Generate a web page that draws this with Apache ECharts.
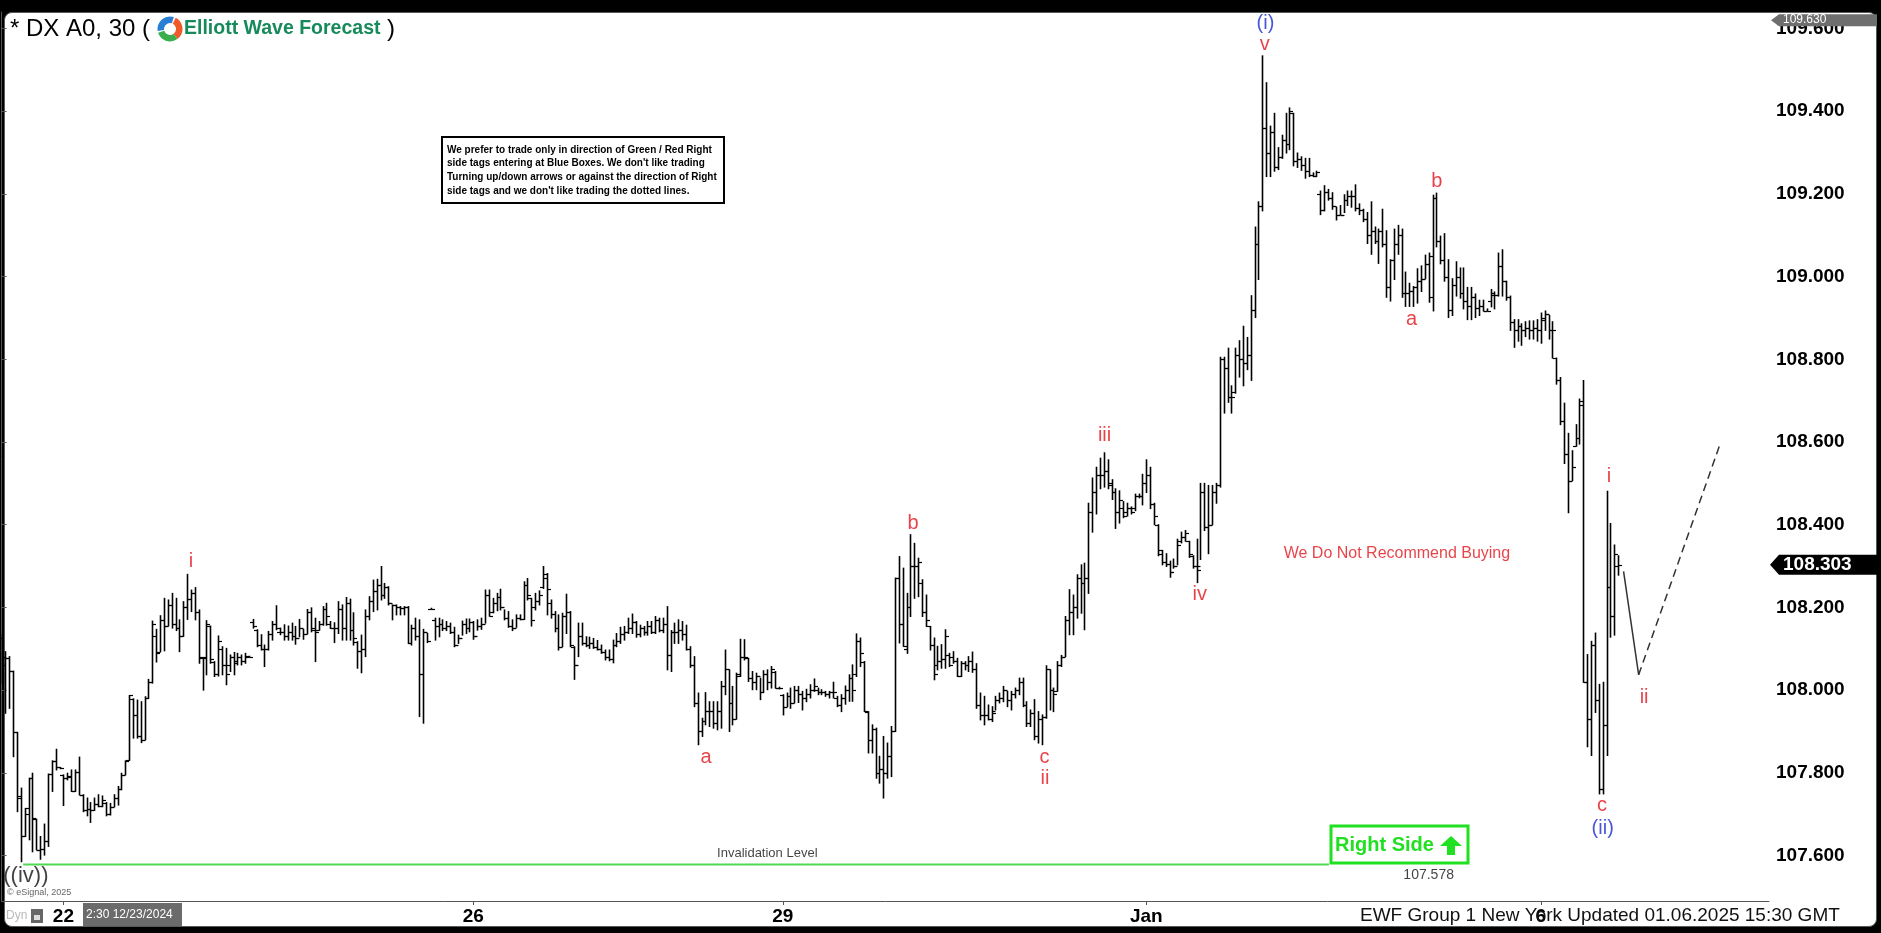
<!DOCTYPE html>
<html><head><meta charset="utf-8">
<script src="https://cdn.jsdelivr.net/npm/echarts@6/dist/echarts.min.js"></script>
<style>
html,body{margin:0;padding:0;background:#000;overflow:hidden}
#panel{position:absolute;left:4px;top:12px;width:1873px;height:915px;background:#fff;border:1px solid #5a5a5a;border-radius:8px;box-sizing:border-box}
#c{position:absolute;left:0;top:0;width:1881px;height:933px}
</style>
</head><body><div id="panel"></div><div id="c"></div>
<script>
// ---- 30-minute OHLC bars (DX A0) ----
const opens = [
108.125,108.060,108.077,108.046,107.898,107.745,107.647,107.714,107.787,107.688,
107.614,107.615,107.635,107.797,107.829,107.813,107.795,107.787,107.789,107.755,
107.801,107.747,107.710,107.712,107.710,107.725,107.720,107.728,107.700,107.718,
107.740,107.760,107.795,107.830,107.979,107.940,107.890,107.880,107.980,108.020,
108.130,108.093,108.170,108.155,108.205,108.160,108.150,108.130,108.200,108.220,
108.235,108.190,108.077,108.080,108.155,108.069,108.040,108.100,108.060,108.060,
108.080,108.070,108.080,108.070,108.081,108.165,108.146,108.110,108.100,108.100,
108.135,108.160,108.140,108.140,108.130,108.140,108.130,
108.125,108.150,108.135,108.190,108.150,108.145,108.160,108.195,108.160,108.150,
108.150,108.195,108.150,108.210,108.145,108.117,108.095,108.100,108.180,108.215,
108.240,108.255,108.230,108.250,108.210,108.205,108.200,108.198,108.200,108.113,
108.150,108.130,108.038,108.140,108.197,108.170,108.155,108.160,108.150,108.155,
108.140,108.110,108.125,108.160,108.150,108.165,108.130,108.155,108.160,108.230,
108.190,108.210,108.225,108.200,108.175,108.155,108.150,108.175,108.172,108.255,
108.222,108.200,108.215,108.250,108.270,108.210,108.185,108.150,108.105,108.180,
108.190,108.105,108.060,108.130,108.115,108.110,108.115,108.105,108.100,108.093,
108.080,108.075,108.110,108.120,108.135,108.140,108.150,108.165,108.135,108.150,
108.140,108.155,108.140,108.170,108.145,108.160,108.085,108.140,108.140,108.145,
108.135,108.100,108.060,107.970,
107.900,107.925,107.950,107.950,107.920,107.950,108.010,108.050,107.970,107.930,
108.040,108.080,108.077,108.030,108.020,108.035,107.995,108.040,108.020,108.045,
108.005,107.989,107.960,107.985,107.970,108.000,107.990,107.980,107.990,108.000,
108.000,107.995,107.995,107.990,107.995,107.980,107.965,107.980,108.000,108.030,
108.040,108.120,108.069,107.948,107.880,107.905,107.800,107.810,107.800,107.840,
107.900,108.270,108.160,108.100,108.200,108.300,108.300,108.260,108.190,108.154,
108.110,108.060,108.070,108.075,108.085,108.080,108.070,108.035,108.065,108.060,
108.070,108.050,107.965,107.940,107.940,107.930,107.950,107.975,107.980,108.000,
107.975,107.990,108.000,108.020,107.965,107.920,107.945,107.890,107.930,107.935,
108.050,108.000,107.997,108.060,108.081,108.170,108.190,108.200,108.270,108.260,
108.270,108.430,108.480,108.520,108.520,108.530,108.500,108.480,108.430,108.440,
108.430,108.440,108.440,108.470,108.470,108.500,108.520,108.450,108.400,108.330,
108.310,108.305,108.285,108.300,108.360,108.370,108.360,108.325,108.300,108.300,
108.480,108.395,108.400,108.480,108.495,108.800,108.780,108.710,108.720,108.810,
108.800,108.790,108.810,108.920,109.078,109.170,109.360,109.300,109.350,109.265,
109.290,109.330,109.320,109.395,109.280,109.285,109.270,109.255,109.245,109.244,
109.200,109.160,109.205,109.190,109.170,109.150,109.150,109.185,109.195,109.195,
109.165,109.160,109.140,109.100,109.110,109.085,109.110,109.080,108.975,109.040,
109.080,109.100,108.960,108.960,108.965,108.975,
108.990,108.995,109.030,108.950,109.190,109.085,109.040,109.000,108.920,108.980,
109.000,108.960,108.940,108.930,108.950,108.925,108.930,108.918,108.940,108.955,
108.955,109.025,108.990,108.950,108.890,108.870,108.880,108.870,108.875,108.870,
108.875,108.870,108.900,108.910,108.870,108.803,108.750,108.650,108.570,108.505,
108.590,108.610,108.700,108.020,107.930,108.110,107.975,107.760,107.915,108.250,
108.180,108.300
];
const highs = [
108.135,108.093,108.081,108.046,107.898,107.763,107.714,107.787,107.799,107.688,
107.646,107.676,107.797,107.829,107.857,107.813,107.795,107.799,107.807,107.807,
107.838,107.747,107.739,107.728,107.739,107.747,107.744,107.728,107.726,107.747,
107.767,107.799,107.829,107.987,107.979,107.976,107.972,107.984,108.026,108.167,
108.147,108.180,108.222,108.218,108.234,108.222,108.170,108.214,108.280,108.242,
108.248,108.194,108.077,108.168,108.155,108.069,108.131,108.105,108.101,108.085,
108.091,108.089,108.085,108.089,108.082,108.171,108.146,108.134,108.109,108.142,
108.166,108.204,108.150,108.158,108.155,108.162,108.154,
108.171,108.147,108.195,108.199,108.174,108.166,108.202,108.210,108.166,108.163,
108.214,108.206,108.224,108.220,108.187,108.117,108.133,108.194,108.226,108.266,
108.268,108.299,108.258,108.250,108.206,108.206,108.202,108.202,108.202,108.157,
108.174,108.170,108.147,108.137,108.198,108.174,108.174,108.170,108.166,108.162,
108.152,108.133,108.167,108.172,108.172,108.166,108.170,108.174,108.242,108.242,
108.222,108.234,108.244,108.194,108.190,108.170,108.182,108.182,108.262,108.270,
108.222,108.234,108.240,108.299,108.282,108.218,108.190,108.182,108.186,108.232,
108.190,108.105,108.162,108.162,108.129,108.128,108.125,108.120,108.109,108.097,
108.097,108.121,108.137,108.152,108.154,108.174,108.184,108.166,108.157,108.154,
108.166,108.166,108.178,108.174,108.174,108.202,108.144,108.162,108.170,108.166,
108.157,108.105,108.081,107.993,
107.932,107.994,107.972,107.972,107.972,108.021,108.097,108.049,108.009,108.041,
108.123,108.122,108.077,108.045,108.041,108.029,108.047,108.049,108.057,108.045,
108.007,107.989,107.993,108.005,108.009,108.009,107.997,108.002,108.013,108.027,
108.005,108.001,107.997,107.997,108.019,107.985,107.989,108.010,108.037,108.061,
108.136,108.126,108.069,107.948,107.916,107.908,107.840,107.888,107.872,107.912,
108.271,108.323,108.295,108.234,108.376,108.355,108.319,108.267,108.230,108.154,
108.126,108.106,108.110,108.146,108.089,108.093,108.077,108.069,108.069,108.081,
108.092,108.064,107.993,107.985,107.964,107.960,107.985,107.993,108.009,107.997,
107.997,108.005,108.029,108.029,107.972,107.952,107.977,107.948,107.940,108.059,
108.049,108.005,108.069,108.084,108.178,108.243,108.230,108.279,108.303,108.307,
108.452,108.513,108.539,108.561,108.574,108.557,108.509,108.487,108.482,108.456,
108.452,108.443,108.474,108.474,108.522,108.557,108.539,108.452,108.400,108.338,
108.330,108.312,108.317,108.365,108.382,108.386,108.360,108.325,108.365,108.500,
108.500,108.495,108.495,108.500,108.805,108.805,108.827,108.736,108.827,108.845,
108.880,108.853,108.954,109.120,109.181,109.534,109.469,109.364,109.395,109.312,
109.342,109.395,109.408,109.395,109.299,109.290,109.286,109.286,109.251,109.255,
109.207,109.220,109.211,109.203,109.168,109.172,109.198,109.207,109.207,109.222,
109.176,109.163,109.155,109.181,109.120,109.115,109.163,109.111,109.041,109.115,
109.124,109.115,109.011,108.984,108.976,109.019,
109.026,109.052,109.057,109.197,109.202,109.098,109.104,109.041,108.995,109.036,
109.021,109.021,108.974,108.974,108.958,108.943,108.943,108.922,108.969,108.963,
109.057,109.065,108.989,108.953,108.896,108.896,108.886,108.891,108.893,108.893,
108.896,108.912,108.917,108.906,108.891,108.803,108.756,108.694,108.621,108.579,
108.642,108.704,108.749,108.086,108.118,108.138,108.014,108.019,108.481,108.403,
108.351,108.325
];
const lows = [
108.017,107.944,107.956,107.839,107.706,107.585,107.646,107.638,107.609,107.614,
107.591,107.601,107.622,107.755,107.807,107.810,107.721,107.783,107.755,107.755,
107.747,107.706,107.696,107.680,107.709,107.718,107.718,107.696,107.698,107.718,
107.722,107.759,107.795,107.830,107.884,107.884,107.873,107.880,107.980,108.017,
108.068,108.093,108.095,108.155,108.150,108.144,108.093,108.130,108.171,108.190,
108.170,108.065,108.000,108.037,108.065,108.033,108.034,108.037,108.013,108.045,
108.037,108.061,108.061,108.065,108.080,108.150,108.105,108.097,108.057,108.097,
108.121,108.146,108.134,108.121,108.121,108.121,108.111,
108.129,108.123,108.136,108.141,108.069,108.145,108.157,108.157,108.149,108.115,
108.137,108.121,108.121,108.121,108.109,108.053,108.042,108.081,108.170,108.190,
108.194,108.218,108.222,108.206,108.170,108.182,108.182,108.182,108.113,108.109,
108.121,107.936,107.920,108.115,108.196,108.121,108.129,108.144,108.144,108.137,
108.105,108.113,108.133,108.137,108.141,108.123,108.145,108.147,108.162,108.179,
108.187,108.192,108.194,108.170,108.152,108.144,108.152,108.170,108.171,108.218,
108.155,108.194,108.206,108.246,108.182,108.174,108.141,108.097,108.105,108.137,
108.105,108.026,108.081,108.109,108.105,108.101,108.101,108.097,108.089,108.073,
108.071,108.066,108.105,108.113,108.121,108.137,108.137,108.128,108.129,108.133,
108.133,108.137,108.137,108.141,108.139,108.049,108.045,108.113,108.113,108.121,
108.097,108.055,107.960,107.868,
107.888,107.916,107.912,107.908,107.904,107.908,107.989,107.900,107.916,107.930,
108.033,108.073,108.021,108.001,108.001,107.977,107.994,108.001,108.005,108.005,
108.003,107.940,107.960,107.956,107.969,107.970,107.952,107.972,107.981,107.997,
107.989,107.989,107.985,107.981,107.981,107.960,107.948,107.966,107.973,107.973,
108.033,108.057,107.948,107.848,107.848,107.787,107.775,107.739,107.787,107.791,
107.900,108.114,108.106,108.089,108.178,108.222,108.226,108.178,108.154,108.097,
108.025,108.049,108.053,108.053,108.057,108.065,108.033,108.033,108.049,108.045,
108.043,107.956,107.928,107.916,107.928,107.924,107.952,107.969,107.972,107.960,
107.952,107.981,107.989,107.960,107.912,107.912,107.880,107.872,107.868,107.932,
107.952,107.948,107.997,108.057,108.081,108.134,108.134,108.174,108.186,108.146,
108.234,108.382,108.426,108.487,108.491,108.487,108.461,108.391,108.404,108.417,
108.421,108.426,108.434,108.465,108.448,108.478,108.439,108.400,108.325,108.303,
108.299,108.273,108.295,108.303,108.356,108.360,108.321,108.295,108.260,108.316,
108.386,108.330,108.400,108.452,108.491,108.670,108.696,108.670,108.718,108.757,
108.736,108.775,108.749,108.901,108.993,109.159,109.242,109.242,109.255,109.259,
109.286,109.299,109.307,109.268,109.264,109.257,109.238,109.242,109.242,109.242,
109.150,109.159,109.185,109.163,109.137,109.150,109.155,109.172,109.168,109.159,
109.150,109.133,109.080,109.054,109.080,109.032,109.072,108.950,108.941,108.993,
109.054,108.950,108.928,108.928,108.928,108.936,
108.964,108.995,108.938,108.917,109.072,109.031,108.989,108.901,108.906,108.953,
108.948,108.922,108.896,108.896,108.901,108.906,108.917,108.917,108.927,108.922,
108.953,108.953,108.943,108.870,108.829,108.844,108.834,108.855,108.849,108.849,
108.844,108.839,108.870,108.849,108.803,108.740,108.642,108.548,108.429,108.507,
108.590,108.595,108.019,107.863,107.842,107.946,107.749,107.749,107.842,108.128,
108.133,108.278
];
const closes = [
108.080,108.077,108.046,107.898,107.740,107.647,107.700,107.787,107.690,107.614,
107.615,107.635,107.797,107.829,107.813,107.811,107.787,107.793,107.755,107.801,
107.747,107.710,107.712,107.710,107.725,107.720,107.735,107.700,107.718,107.740,
107.760,107.795,107.829,107.987,107.940,107.890,107.880,107.980,108.020,108.160,
108.090,108.170,108.155,108.205,108.160,108.150,108.130,108.200,108.220,108.235,
108.190,108.080,108.077,108.160,108.075,108.040,108.120,108.060,108.040,108.080,
108.065,108.080,108.070,108.082,108.081,108.155,108.110,108.100,108.100,108.135,
108.160,108.150,108.140,108.130,108.140,108.130,108.125,
108.150,108.135,108.190,108.145,108.140,108.160,108.195,108.180,108.150,108.150,
108.195,108.150,108.210,108.145,108.125,108.095,108.100,108.180,108.215,108.240,
108.255,108.230,108.250,108.210,108.205,108.200,108.198,108.200,108.113,108.150,
108.130,108.038,108.140,108.118,108.197,108.155,108.160,108.150,108.155,108.140,
108.110,108.125,108.160,108.150,108.165,108.130,108.155,108.160,108.230,108.180,
108.210,108.225,108.200,108.175,108.155,108.150,108.175,108.172,108.255,108.230,
108.170,108.215,108.230,108.280,108.245,108.185,108.150,108.105,108.180,108.190,
108.110,108.060,108.130,108.115,108.110,108.115,108.105,108.100,108.093,108.080,
108.075,108.110,108.120,108.135,108.140,108.150,108.165,108.135,108.150,108.140,
108.155,108.140,108.170,108.145,108.160,108.085,108.140,108.140,108.145,108.135,
108.100,108.060,107.970,107.900,
107.925,107.950,107.950,107.920,107.950,108.010,108.050,107.970,107.930,108.035,
108.080,108.080,108.030,108.020,108.035,107.995,108.040,108.020,108.050,108.005,
108.005,107.960,107.985,107.970,108.000,107.990,107.980,107.990,108.000,108.010,
107.995,107.995,107.990,107.995,107.995,107.965,107.980,108.000,108.030,108.000,
108.120,108.090,107.950,107.880,107.905,107.800,107.810,107.800,107.840,107.900,
108.270,108.160,108.106,108.200,108.300,108.300,108.310,108.190,108.170,108.110,
108.040,108.070,108.075,108.130,108.060,108.070,108.035,108.065,108.060,108.070,
108.050,107.965,107.940,107.940,107.930,107.945,107.975,107.980,108.000,107.975,
107.990,108.000,108.020,107.965,107.920,107.945,107.890,107.930,107.935,108.050,
108.000,107.990,108.060,108.080,108.170,108.190,108.200,108.270,108.260,108.270,
108.430,108.480,108.520,108.520,108.530,108.497,108.480,108.430,108.460,108.420,
108.440,108.430,108.470,108.470,108.500,108.520,108.450,108.420,108.340,108.310,
108.305,108.285,108.300,108.350,108.370,108.380,108.330,108.300,108.290,108.480,
108.395,108.400,108.480,108.495,108.800,108.780,108.710,108.710,108.810,108.800,
108.790,108.810,108.920,109.078,109.170,109.360,109.300,109.350,109.265,109.290,
109.330,109.320,109.400,109.280,109.285,109.270,109.255,109.245,109.244,109.252,
109.160,109.205,109.190,109.170,109.150,109.150,109.185,109.195,109.195,109.165,
109.160,109.140,109.100,109.110,109.085,109.110,109.080,108.975,109.040,109.080,
109.100,108.960,108.960,108.965,108.975,108.990,
108.995,109.030,109.050,109.190,109.085,109.040,109.000,108.920,108.980,109.000,
108.960,108.940,108.930,108.950,108.925,108.930,108.918,108.918,108.960,108.955,
109.025,108.990,108.950,108.890,108.870,108.880,108.870,108.875,108.870,108.875,
108.870,108.895,108.910,108.870,108.870,108.750,108.650,108.570,108.505,108.540,
108.610,108.690,108.020,107.930,108.110,107.975,107.760,107.915,108.250,108.180,
108.330,108.303
];

// ---- axes ----
const slotCount = 457;                       // bar slots shown on the time axis
const xTickIdx = [16, 122, 202, 296, 398];
const xTickLabels = ['22', '26', '29', 'Jan', '6'];
const yTicks = [107.6, 107.8, 108.0, 108.2, 108.4, 108.6, 108.8, 109.0, 109.2, 109.4, 109.6];
const yMin = 107.49, yMax = 109.64;
const topTagValue = 109.630;

// ---- wave labels [barIndex, price, text] ----
const redLabels = [
  [49.0, 108.310, 'i'], [182.2, 107.838, 'a'], [235.7, 108.404, 'b'],
  [269.7, 107.837, 'c'], [269.8, 107.786, 'ii'], [285.2, 108.616, 'iii'],
  [309.8, 108.232, 'iv'], [326.6, 109.561, 'v'], [371.1, 109.231, 'b'],
  [364.6, 108.897, 'a'], [415.6, 108.516, 'i'], [424.7, 107.982, 'ii'],
  [413.8, 107.721, 'c']
];
const blueLabels = [[326.8, 109.612, '(i)'], [414.0, 107.666, '(ii)']];
const blackLabels = [[6.3, 107.551, '((iv))']];

// projected path [barIndex, price]
const projSolid = [[419.4, 108.287], [423.3, 108.037]];
const projDashed = [[423.3, 108.037], [444.2, 108.591]];
// invalidation level
const invalidLevel = 107.578;
const invalidSpan = [5.6, 343.2];
// notes [barIndex, price, text]
const noteRecommend = [[360.8, 108.330, 'We Do Not Recommend Buying']];
const noteInvalid = [[198.0, 107.606, 'Invalidation Level']];
const noteLevel = [[369.0, 107.553, '107.578']];

const FONT = "'Liberation Sans', Arial, sans-serif";

const bars = opens.map((o, i) => [i, o, highs[i], lows[i], closes[i]]);

const chart = echarts.init(document.getElementById('c'), null, {renderer: 'canvas'});

function labelSeries(data, color, size) {
  return {
    type: 'scatter', data: data, symbolSize: 0, z: 6, silent: true,
    encode: {x: 0, y: 1},
    label: {show: true, position: 'inside', formatter: p => p.data[2],
            color: color, fontSize: size, fontFamily: FONT}
  };
}

chart.setOption({
  animation: false,
  backgroundColor: 'transparent',
  grid: {left: 1.5, right: 112, top: 12, bottom: 32, containLabel: false},
  xAxis: {
    type: 'value', min: 0, max: slotCount,
    axisLine: {show: true, lineStyle: {color: '#555', width: 1}},
    axisTick: {show: true, customValues: xTickIdx, length: 4, lineStyle: {color: '#555'}},
    axisLabel: {show: true, customValues: xTickIdx, margin: 6,
      formatter: v => xTickLabels[xTickIdx.indexOf(v)],
      color: '#000', fontWeight: 'bold', fontSize: 19, fontFamily: FONT},
    splitLine: {show: false}
  },
  yAxis: {
    type: 'value', position: 'right', min: yMin, max: yMax,
    axisLine: {show: true, lineStyle: {color: '#555', width: 1}},
    axisTick: {show: true, customValues: yTicks, length: 5, lineStyle: {color: '#555'}},
    axisLabel: {show: true, customValues: yTicks, margin: 7,
      formatter: v => v.toFixed(3),
      color: '#000', fontWeight: 'bold', fontSize: 19, fontFamily: FONT},
    splitLine: {show: false}
  },
  series: [
    {
      type: 'custom', data: bars, z: 3, clip: true,
      encode: {x: 0, y: [1, 2, 3, 4]},
      renderItem: function (params, api) {
        const i = api.value(0);
        const pO = api.coord([i, api.value(1)]);
        const pH = api.coord([i, api.value(2)]);
        const pL = api.coord([i, api.value(3)]);
        const pC = api.coord([i, api.value(4)]);
        const x = Math.round(pH[0]) + 0.5;
        const yo = Math.round(pO[1]) + 0.5, yc = Math.round(pC[1]) + 0.5;
        return {type: 'group', children: [
          {type: 'line', shape: {x1: x, y1: pH[1] - 0.5, x2: x, y2: pL[1] + 0.5}, style: {stroke: '#000', lineWidth: 1.6}},
          {type: 'line', shape: {x1: x - 3.5, y1: yo, x2: x, y2: yo}, style: {stroke: '#000', lineWidth: 1.2}},
          {type: 'line', shape: {x1: x, y1: yc, x2: x + 3.5, y2: yc}, style: {stroke: '#000', lineWidth: 1.2}}
        ]};
      }
    },
    {type: 'line', data: invalidSpan.map(i => [i, invalidLevel]), showSymbol: false, z: 2,
     lineStyle: {color: '#52d852', width: 2}, silent: true},
    {type: 'line', data: projSolid, showSymbol: false, z: 4,
     lineStyle: {color: '#333', width: 1.5}, silent: true},
    {type: 'line', data: projDashed, showSymbol: false, z: 4,
     lineStyle: {color: '#333', width: 1.5, type: [8, 5]}, silent: true},
    labelSeries(redLabels, '#e3141c', 20),
    labelSeries(blueLabels, '#1b2bd0', 20),
    labelSeries(blackLabels, '#111', 22),
    labelSeries(noteRecommend, '#e3141c', 16),
    labelSeries(noteInvalid, '#111', 13),
    labelSeries(noteLevel, '#111', 14)
  ]
});

// ---- annotations placed from the axis scale ----
const yPx = v => chart.convertToPixel({yAxisIndex: 0}, v);
const lastClose = closes[closes.length - 1];
const ly = yPx(lastClose);
const ty = yPx(topTagValue) + 4;
const noteLines = [
  'We prefer to trade only in direction of Green / Red Right',
  "side tags entering at Blue Boxes. We don't like trading",
  'Turning up/down arrows or against the direction of Right',
  "side tags and we don't like trading the dotted lines."
];
const gfx = [
  // price tags on the right axis
  {type: 'polygon', z: 20, shape: {points: [[1770, ly], [1779, ly - 10], [1877, ly - 10], [1877, ly + 10], [1779, ly + 10]]}, style: {fill: '#000'}},
  {type: 'text', z: 21, x: 1783, y: ly, style: {text: lastClose.toFixed(3), fill: '#fff', font: "bold 19px " + FONT, verticalAlign: 'middle'}},
  {type: 'polygon', z: 20, shape: {points: [[1771, ty], [1779, ty - 6], [1877, ty - 6], [1877, ty + 6], [1779, ty + 6]]}, style: {fill: '#6e6e6e'}},
  {type: 'text', z: 21, x: 1783, y: ty, style: {text: topTagValue.toFixed(3), fill: '#fff', font: "12px " + FONT, verticalAlign: 'middle'}},
  // title
  {type: 'text', z: 20, x: 10, y: 29, style: {text: '* DX A0, 30 (', fill: '#000', font: "24px " + FONT, verticalAlign: 'middle'}},
  {type: 'sector', z: 20, shape: {cx: 170, cy: 29, r: 12.5, r0: 6, startAngle: Math.PI * 0.95, endAngle: Math.PI * 1.6}, style: {fill: '#2a7fd4'}},
  {type: 'sector', z: 20, shape: {cx: 170, cy: 29, r: 12.5, r0: 6, startAngle: Math.PI * 1.65, endAngle: Math.PI * 2.3}, style: {fill: '#f0592a'}},
  {type: 'sector', z: 20, shape: {cx: 170, cy: 29, r: 12.5, r0: 6, startAngle: Math.PI * 0.3, endAngle: Math.PI * 0.9}, style: {fill: '#3aae4c'}},
  {type: 'text', z: 20, x: 184, y: 29, style: {text: 'Elliott Wave Forecast', fill: '#178a5c', font: "bold 19.5px " + FONT, verticalAlign: 'middle'}},
  {type: 'text', z: 20, x: 387, y: 29, style: {text: ')', fill: '#000', font: "24px " + FONT, verticalAlign: 'middle'}},
  // instruction box
  {type: 'rect', z: 20, shape: {x: 442, y: 137, width: 282, height: 66}, style: {fill: '#fff', stroke: '#000', lineWidth: 2}},
  // right side tag
  {type: 'rect', z: 20, shape: {x: 1331, y: 826, width: 137, height: 37}, style: {fill: '#fff', stroke: '#21e021', lineWidth: 3}},
  {type: 'text', z: 21, x: 1335, y: 845, style: {text: 'Right Side', fill: '#21e021', font: "bold 20px " + FONT, verticalAlign: 'middle'}},
  {type: 'polygon', z: 21, shape: {points: [[1451, 836], [1462, 846], [1455, 846], [1455, 855], [1447, 855], [1447, 846], [1440, 846]]}, style: {fill: '#21e021'}},
  // bottom bar
  {type: 'text', z: 20, x: 7, y: 893, style: {text: '\u00a9 eSignal, 2025', fill: '#666', font: "9px " + FONT, verticalAlign: 'middle'}},
  {type: 'text', z: 20, x: 6, y: 916, style: {text: 'Dyn', fill: '#bbb', font: "12px " + FONT, verticalAlign: 'middle'}},
  {type: 'rect', z: 20, shape: {x: 31, y: 909, width: 12, height: 14}, style: {fill: '#666'}},
  {type: 'rect', z: 21, shape: {x: 34, y: 915, width: 6, height: 5}, style: {fill: '#ddd'}},
  {type: 'rect', z: 20, shape: {x: 83, y: 903, width: 99, height: 23}, style: {fill: '#6b6b6b'}},
  {type: 'text', z: 21, x: 86, y: 915, style: {text: '2:30 12/23/2024', fill: '#fff', font: "12px " + FONT, verticalAlign: 'middle'}},
  {type: 'text', z: 22, x: 1360, y: 916, style: {text: 'EWF Group 1 New York Updated 01.06.2025 15:30 GMT', fill: '#111', font: "19px " + FONT, verticalAlign: 'middle'}}
];
noteLines.forEach((t, k) => gfx.push({type: 'text', z: 21, x: 447, y: 150 + k * 13.7,
  style: {text: t, fill: '#000', font: "bold 10px " + FONT, verticalAlign: 'middle'}}));
chart.setOption({graphic: gfx});
</script>
</body></html>
